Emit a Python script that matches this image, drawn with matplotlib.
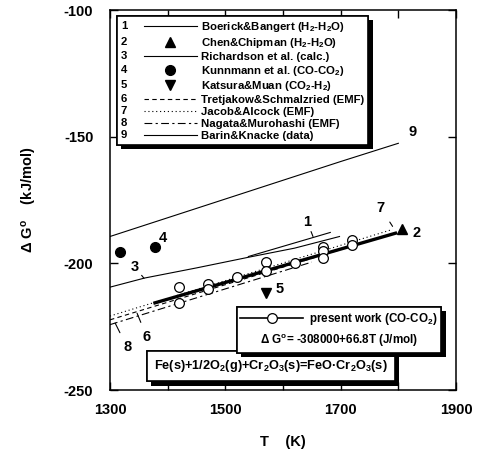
import matplotlib
matplotlib.use('Agg')
import matplotlib.pyplot as plt
import matplotlib.patheffects as pe
from matplotlib.legend_handler import HandlerBase
from matplotlib.lines import Line2D
from matplotlib.text import Text

plt.rcParams['font.family'] = ['Liberation Sans', 'DejaVu Sans']
plt.rcParams['font.weight'] = 'bold'
plt.rcParams['mathtext.fontset'] = 'custom'
plt.rcParams['mathtext.rm'] = 'Liberation Sans:bold'
plt.rcParams['mathtext.it'] = 'Liberation Sans:bold'
plt.rcParams['mathtext.bf'] = 'Liberation Sans:bold'
plt.rcParams['axes.unicode_minus'] = False

# literature lines (T in K, dG in kJ/mol)
t_boerick = [1540, 1682]
g_boerick = [-197.3, -187.8]
t_richardson = [1300, 1360, 1450, 1540, 1620, 1698]
g_richardson = [-209.4, -205.8, -201.8, -197.6, -194.0, -189.4]
t_tretjakow = [1300, 1780]
g_tretjakow = [-222.3, -189.0]
t_jacob = [1300, 1790]
g_jacob = [-220.8, -186.6]
t_nagata = [1300, 1650]
g_nagata = [-224.2, -199.5]
t_barin = [1300, 1500, 1700, 1800]
g_barin = [-189.4, -174.6, -159.8, -152.6]

# single points
t_chen, g_chen = [1807], [-186.6]
t_kunnmann, g_kunnmann = [1317, 1378], [-195.7, -193.7]
t_katsura, g_katsura = [1571], [-211.8]

# present work
t_fit = [1378, 1795]
g_fit = [-215.6, -188.1]
t_meas = [1420, 1420, 1470, 1470, 1520, 1570, 1570, 1620, 1670, 1670, 1670, 1720, 1720]
g_meas = [-209.4, -215.7, -208.3, -210.2, -205.5, -199.6, -203.1, -200.0,
          -193.7, -195.3, -198.0, -190.6, -192.9]

names = ['Boerick&Bangert (H$_2$-H$_2$O)', 'Chen&Chipman (H$_2$-H$_2$O)',
         'Richardson et al. (calc.)', 'Kunnmann et al. (CO-CO$_2$)',
         'Katsura&Muan (CO$_2$-H$_2$)', 'Tretjakow&Schmalzried (EMF)',
         'Jacob&Alcock (EMF)', 'Nagata&Murohashi (EMF)', 'Barin&Knacke (data)']


class NumberedHandler(HandlerBase):
    # draws "n  ----" : a number followed by the line / marker sample
    def __init__(self, num):
        super().__init__()
        self.num = num

    def create_artists(self, legend, orig_handle, xdescent, ydescent,
                       width, height, fontsize, trans):
        y = height / 2 - ydescent
        txt = Text(-xdescent, y, self.num, fontsize=fontsize, fontweight='bold',
                   va='center', ha='left', transform=trans)
        x0 = -xdescent + 2.0 * fontsize
        x1 = -xdescent + width
        ln = Line2D([], [])
        ln.update_from(orig_handle)
        if orig_handle.get_linestyle() in ('None', 'none', ''):
            ln.set_data([(x0 + x1) / 2], [y])
        else:
            ln.set_data([x0, x1], [y, y])
        ln.set_transform(trans)
        return [txt, ln]


fig = plt.figure(figsize=(4.79, 4.57), dpi=100)
ax = fig.add_axes([0.2296, 0.1466, 0.7224, 0.8314])

lw = 0.8
h1, = ax.plot(t_boerick, g_boerick, '-', color='k', lw=lw)
h2, = ax.plot(t_chen, g_chen, '^', color='k', ms=7, ls='None')
h3, = ax.plot(t_richardson, g_richardson, '-', color='k', lw=lw)
h4, = ax.plot(t_kunnmann, g_kunnmann, 'o', color='k', ms=7, ls='None')
h5, = ax.plot(t_katsura, g_katsura, 'v', color='k', ms=7, ls='None')
h6, = ax.plot(t_tretjakow, g_tretjakow, color='k', lw=lw, dashes=(4, 3))
h7, = ax.plot(t_jacob, g_jacob, color='k', lw=lw, dashes=(1, 2.5))
h8, = ax.plot(t_nagata, g_nagata, color='k', lw=lw, dashes=(7, 3, 2, 3))
h9, = ax.plot(t_barin, g_barin, '-', color='k', lw=lw)

ax.plot(t_fit, g_fit, '-', color='k', lw=2.4)
ax.plot(t_meas, g_meas, 'o', ls='None', ms=7, mfc='white', mec='k', mew=0.9)
hp = Line2D([], [], color='k', lw=1.2, marker='o', ms=7, mfc='white', mec='k', mew=0.9)

ax.set_xlim(1300, 1900)
ax.set_ylim(-250, -100)
xt = [1300, 1400, 1500, 1600, 1700, 1800, 1900]
ax.set_xticks(xt)
ax.set_xticklabels([str(t) if (t - 1300) % 200 == 0 else '' for t in xt])
yt = [-250, -200, -150, -100]
ax.set_yticks(yt)
ax.set_yticklabels([str(v) for v in yt])
ax.tick_params(direction='in', length=6, width=1, top=True, right=True,
               labelsize=10.5)
ax.tick_params(axis='x', pad=9)
ax.tick_params(axis='y', pad=12)
for s in ax.spines.values():
    s.set_linewidth(1.1)

ax.set_xlabel('T    (K)', fontsize=10.5, fontweight='bold', labelpad=13)
ax.set_ylabel('$\\Delta$ G$^{\\rm o}$    (kJ/mol)', fontsize=10.5, fontweight='bold', labelpad=18)

shadow = [pe.withSimplePatchShadow(offset=(3, -3), shadow_rgbFace='k', alpha=1.0), pe.Normal()]

handles = [h1, h2, h3, h4, h5, h6, h7, h8, h9]
hmap = {h: NumberedHandler(str(i + 1)) for i, h in enumerate(handles)}
leg = ax.legend(handles, names, handler_map=hmap, loc='upper left',
                bbox_to_anchor=(0.02, 0.985), borderaxespad=0, fontsize=8.2,
                handlelength=6.7, handletextpad=0.35, labelspacing=0.17,
                borderpad=0.35, fancybox=False, edgecolor='k', framealpha=1)
leg.get_frame().set_linewidth(1.2)
leg.get_frame().set_path_effects(shadow)
ax.add_artist(leg)

leg2 = ax.legend([hp], ['present work (CO-CO$_2$)'], loc='upper left',
                 bbox_to_anchor=(0.367, 0.218), borderaxespad=0, fontsize=8.4,
                 handlelength=5.4, handletextpad=0.5, borderpad=0.3,
                 title='$\\Delta$ G$^{\\rm o}$= -308000+66.8T (J/mol)',
                 title_fontproperties={'size': 8.4, 'weight': 'bold'},
                 fancybox=False, edgecolor='k', framealpha=1)
leg2._legend_box._children.reverse()
leg2.get_frame().set_linewidth(1.2)
leg2.get_frame().set_path_effects(shadow)

eq = ax.text(0.128, 0.062, 'Fe(s)+1/2O$_2$(g)+Cr$_2$O$_3$(s)=FeO\u00b7Cr$_2$O$_3$(s)',
             transform=ax.transAxes, fontsize=9.2, fontweight='bold', va='center', ha='left',
             bbox=dict(boxstyle='square,pad=0.55', fc='white', ec='k', lw=1.2))
eq.get_bbox_patch().set_path_effects(shadow)

# curve labels
lab = dict(fontsize=10.5, fontweight='bold', ha='center', va='center')
arr = dict(arrowstyle='-', color='k', lw=0.8, shrinkA=4, shrinkB=0)
ax.annotate('1', xy=(1652, -189.4), xytext=(1642, -183.6), arrowprops=arr, **lab)
ax.text(1832, -188.0, '2', **lab)
ax.annotate('3', xy=(1359, -205.9), xytext=(1343, -201.4), arrowprops=arr, **lab)
ax.text(1392, -190.0, '4', **lab)
ax.text(1594, -210.0, '5', **lab)
ax.annotate('6', xy=(1347, -219.7), xytext=(1364, -229.2), arrowprops=arr, **lab)
ax.annotate('7', xy=(1790, -185.4), xytext=(1769, -178.0), arrowprops=arr, **lab)
ax.annotate('8', xy=(1309, -223.6), xytext=(1330, -233.2), arrowprops=arr, **lab)
ax.text(1824, -148.2, '9', **lab)

fig.savefig('out.png', dpi=100)
